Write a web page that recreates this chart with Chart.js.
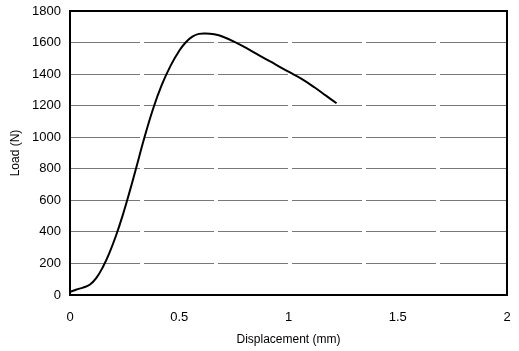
<!DOCTYPE html>
<html>
<head>
<meta charset="utf-8">
<script src="https://cdn.jsdelivr.net/npm/chart.js@4/dist/chart.umd.min.js"></script>
<style>
  html, body { margin: 0; padding: 0; background: #fff; }
  #wrap { width: 519px; height: 351px; }
</style>
</head>
<body>
<div id="wrap"><canvas id="loadChart"></canvas></div>
<script>
// displacement (mm) and load (N)
var displacement = [0, 0.03, 0.06, 0.09, 0.12, 0.15, 0.18, 0.21, 0.24, 0.27, 0.30, 0.34, 0.38, 0.42,
    0.46, 0.50, 0.53, 0.56, 0.59, 0.62, 0.66, 0.70, 0.76, 0.82, 0.88, 0.94, 1.00, 1.06, 1.12, 1.17, 1.22];
var load = [20, 35, 47, 65, 107, 176, 266, 374, 500, 641, 791, 995, 1179, 1331,
    1452, 1548, 1602, 1638, 1655, 1658, 1652, 1637, 1600, 1555, 1507, 1462, 1415, 1370, 1315, 1265, 1215];

var xTicks = [0, 0.5, 1, 1.5, 2];
var yMax = 1800;
var yStep = 200;

var points = [];
for (var i = 0; i < displacement.length; i++) {
    points.push({ x: displacement[i], y: load[i] });
}

var frame = {
    id: 'frame',
    afterDraw: function (chart) {
        var a = chart.chartArea;
        var ctx = chart.ctx;
        ctx.save();
        ctx.strokeStyle = '#000';
        ctx.lineWidth = 2;
        ctx.strokeRect(a.left, a.top, a.right - a.left, a.bottom - a.top);
        ctx.restore();
    }
};

Chart.defaults.font.family = '"Liberation Sans", Arial, sans-serif';
Chart.defaults.color = '#000';

new Chart(document.getElementById('loadChart'), {
    type: 'scatter',
    data: {
        datasets: [{
            label: 'Load',
            data: points,
            showLine: true,
            borderColor: '#000',
            borderWidth: 2,
            pointRadius: 0,
            tension: 0.4
        }]
    },
    options: {
        animation: false,
        responsive: true,
        maintainAspectRatio: false,
        layout: { padding: { top: 11, right: 12, left: 0, bottom: 0 } },
        plugins: { legend: { display: false }, tooltip: { enabled: false } },
        scales: {
            x: {
                type: 'linear',
                min: 0,
                max: 2,
                afterBuildTicks: function (axis) {
                    axis.ticks = xTicks.map(function (v) { return { value: v }; });
                },
                grid: { display: false, drawTicks: false },
                border: { display: false },
                ticks: {
                    padding: 15, font: { size: 13 }, maxRotation: 0,
                    callback: function (v) { return String(v); }
                },
                title: { display: true, text: 'Displacement (mm)', font: { size: 12 }, padding: { top: 5 } },
                afterFit: function (axis) {
                    axis.height = 56;
                    axis.paddingRight = 0;
                    axis.paddingLeft = 0;
                }
            },
            y: {
                min: 0,
                max: yMax,
                ticks: {
                    stepSize: yStep, padding: 9, font: { size: 13 },
                    callback: function (v) { return String(v); }
                },
                grid: { color: '#777', lineWidth: 1, drawTicks: false },
                border: { display: false, dash: [70, 4] },
                title: { display: true, text: 'Load (N)', font: { size: 12 }, padding: { top: 8, bottom: 4 } },
                afterFit: function (axis) {
                    axis.width = 70;
                    axis.paddingTop = 0;
                }
            }
        }
    },
    plugins: [frame]
});
</script>
</body>
</html>
